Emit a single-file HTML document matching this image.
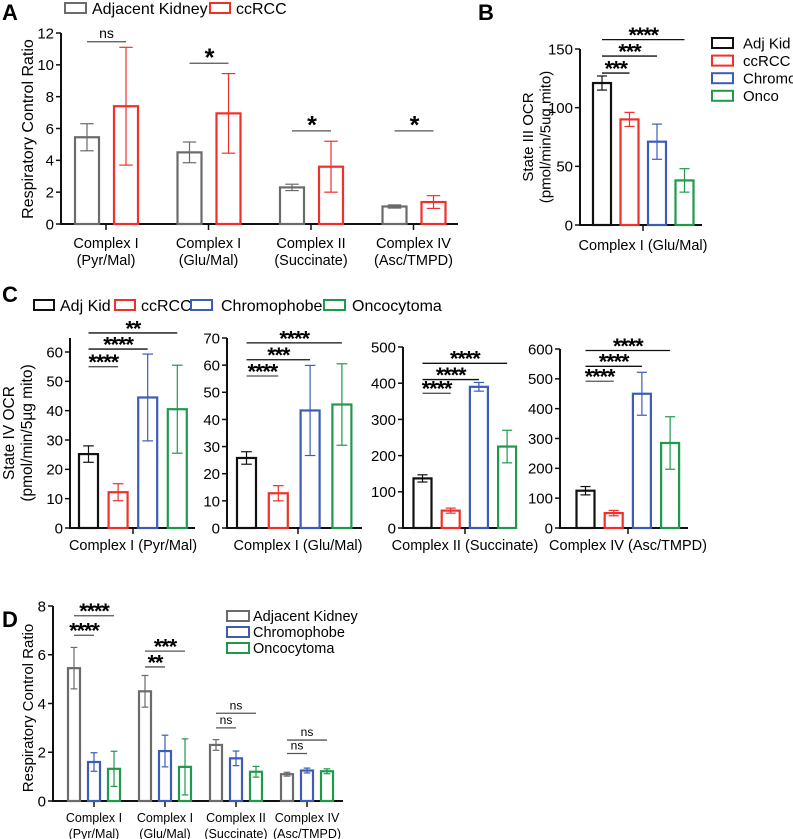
<!DOCTYPE html>
<html><head><meta charset="utf-8"><style>
body{margin:0;background:#fff}
svg{display:block;font-family:"Liberation Sans",Arial,sans-serif}
</style></head><body>
<svg id="fig" width="793" height="839" viewBox="0 0 793 839" xmlns="http://www.w3.org/2000/svg">
<g font-weight="bold" font-size="22">
<text x="2" y="20">A</text>
<text x="478" y="20">B</text>
<text x="2" y="302">C</text>
<text x="2" y="627">D</text>
</g>
</svg>
<script>
const GREY='#6b6b6b',RED='#f0302a',BLUE='#3c5cb8',GREEN='#1f9a4c',BLACK='#111';
// Panel A
const aCats=[["Complex I","(Pyr/Mal)"],["Complex I","(Glu/Mal)"],["Complex II","(Succinate)"],["Complex IV","(Asc/TMPD)"]];
const aAdj=[5.45,4.5,2.3,1.1];
const aAdjErr=[0.85,0.65,0.2,0.1];
const aCc=[7.4,6.95,3.6,1.38];
const aCcErr=[3.7,2.5,1.6,0.4];
const aTicks=[0,2,4,6,8,10,12];
const aSig=[["ns",11.45],["*",10.1],["*",5.85],["*",5.85]];
// Panel B
const bVals=[121,90,71,38];
const bErr=[6,6,15,10];
const bTicks=[0,50,100,150];
const bSig=[["***",129.5,1],["***",144,2],["****",158,3]];
// Panel C
const cTitles=["Complex I (Pyr/Mal)","Complex I (Glu/Mal)","Complex II (Succinate)","Complex IV (Asc/TMPD)"];
const c1Vals=[25.2,12.2,44.5,40.5];const c1Err=[2.8,2.9,14.8,15];
const c2Vals=[25.8,12.8,43.3,45.5];const c2Err=[2.3,2.8,16.6,15];
const c3Vals=[137,48,390,225];const c3Err=[10,7,12,45];
const c4Vals=[125,50,450,285];const c4Err=[14,9,72,88];
const c1Ticks=[0,10,20,30,40,50,60];const c2Ticks=[0,10,20,30,40,50,60,70];
const c3Ticks=[0,100,200,300,400,500];const c4Ticks=[0,100,200,300,400,500,600];
const c1Sig=[["****",55,1],["****",61,2],["**",66.5,3]];
const c2Sig=[["****",56,1],["***",62,2],["****",68.2,3]];
const c3Sig=[["****",372,1],["****",410,2],["****",455,3]];
const c4Sig=[["****",492,1],["****",542,2],["****",595,3]];
// Panel D
const dAdj=[5.45,4.5,2.3,1.1];const dAdjErr=[0.85,0.65,0.22,0.08];
const dChr=[1.6,2.05,1.75,1.25];const dChrErr=[0.38,0.65,0.3,0.1];
const dOnc=[1.32,1.4,1.2,1.22];const dOncErr=[0.72,1.15,0.22,0.1];
const dTicks=[0,2,4,6,8];
const dSig=[[["****",6.8,1],["****",7.6,2]],[["**",5.5,1],["***",6.15,2]],[["ns",3.0,1],["ns",3.6,2]],[["ns",1.95,1],["ns",2.5,2]]];

const svg=document.getElementById('fig');
const NS='http://www.w3.org/2000/svg';
function el(tag,attrs,parent,txt){const e=document.createElementNS(NS,tag);for(const k in attrs)e.setAttribute(k,attrs[k]);if(txt!==undefined)e.textContent=txt;(parent||svg).appendChild(e);return e;}
function scale(d0,d1,p0,p1){return v=>p0+(v-d0)/(d1-d0)*(p1-p0);}
function axis(g,x,xEnd,y,ticks,fs,top){
  const l=el('line',{x1:x,y1:top,x2:x,y2:y(ticks[0]),stroke:BLACK,'stroke-width':2},g);
  
  const b=el('line',{x1:x-1,y1:y(ticks[0]),x2:xEnd,y2:y(ticks[0]),stroke:BLACK,'stroke-width':2},g);
  
  ticks.forEach(t=>{
    const tl=el('line',{x1:x-5,y1:y(t),x2:x,y2:y(t),stroke:BLACK,'stroke-width':1.5},g);
    
    const tt=el('text',{x:x-7,y:y(t)+fs*0.36,'text-anchor':'end','font-size':fs},g,String(t));
    
  });
}
function bar(g,cx,w,v,e,y,color,name){
  const r=el('rect',{x:cx-w/2,y:y(v),width:w,height:y(0)-y(v),fill:'none',stroke:color,'stroke-width':2.2},g);
  
  const eg=el('g',{stroke:color,'stroke-width':1.2},g);
  
  const c=w*0.28;
  el('line',{x1:cx,y1:y(v-e),x2:cx,y2:y(v+e)},eg);
  el('line',{x1:cx-c,y1:y(v+e),x2:cx+c,y2:y(v+e)},eg);
  el('line',{x1:cx-c,y1:y(v-e),x2:cx+c,y2:y(v-e)},eg);
}
function sig(g,x1,x2,yv,label,fs,color){
  const l=el('line',{x1:x1,y1:yv,x2:x2,y2:yv,stroke:color||'#555','stroke-width':1.3},g);
  
  const isStar=label!=='ns';
  const t=el('text',{x:(x1+x2)/2,y:isStar?yv+fs*0.2:yv-4,'text-anchor':'middle','font-size':isStar?fs*1.8:fs,'font-weight':isStar?'bold':'normal','letter-spacing':isStar?-1:0},g,label);
  
}
function legendItem(g,x,y,w,h,color,label,fs,tx){
  const r=el('rect',{x:x,y:y,width:w,height:h,fill:'none',stroke:color,'stroke-width':2},g);
  
  const t=el('text',{x:tx,y:y+h/2+fs*0.36,'font-size':fs},g,label);
  
}
function ytitle(g,cx,cy,lines,fs){
  const t=el('text',{transform:`translate(${cx},${cy}) rotate(-90)`,'text-anchor':'middle','font-size':fs},g);
  
  lines.forEach((s,i)=>{el('tspan',{x:0,dy:i?fs*1.15:0},t,s);});
}

// ---- Panel A
(function(){
  const g=el('g',{});
  const y=scale(0,12,224,33);
  axis(g,61,458,y,aTicks,15,33);
  legendItem(g,65,3,21,10,GREY,'Adjacent Kidney',16,92);
  legendItem(g,210,3,20,10,RED,'ccRCC',16,236);
  ytitle(g,33,129,['Respiratory Control Ratio'],16);
  aCats.forEach((c,i)=>{
    const cx=106+i*102.5;
    el('line',{x1:cx,y1:224,x2:cx,y2:230,stroke:BLACK,'stroke-width':1.5},g);
    bar(g,cx-19,24,aAdj[i],aAdjErr[i],y,GREY,'bar-adjacent-'+i);
    bar(g,cx+20,24,aCc[i],aCcErr[i],y,RED,'bar-ccrcc-'+i);
    sig(g,cx-19,cx+20,y(aSig[i][1]),aSig[i][0],14);
    c.forEach((s,j)=>{const t=el('text',{x:cx,y:248+j*17,'text-anchor':'middle','font-size':14.5},g,s);
      });
  });
})();

// ---- Panel B
(function(){
  const g=el('g',{});
  const y=scale(0,150,225,49);
  axis(g,580,702,y,bTicks,15,49);
  const cols=[BLACK,RED,BLUE,GREEN];
  bVals.forEach((v,i)=>bar(g,602+i*27.5,18,v,bErr[i],y,cols[i],'bar-b-'+i));
  el('line',{x1:643,y1:225,x2:643,y2:231,stroke:BLACK,'stroke-width':1.5},g);
  bSig.forEach(s=>sig(g,602,602+s[2]*27.5,y(s[1]),s[0],12,BLACK));
  const t=el('text',{x:643,y:250,'text-anchor':'middle','font-size':14.5},g,'Complex I (Glu/Mal)');
  
  ytitle(g,533,137,['State III OCR','(pmol/min/5ug mito)'],15);
  ['Adj Kid','ccRCC','Chromo','Onco'].forEach((s,i)=>legendItem(g,712,38+i*17.6,21,10,cols[i],s,15,743));
})();

// ---- Panel C
(function(){
  const g=el('g',{});
  const cols=[BLACK,RED,BLUE,GREEN];
  legendItem(g,34,300,20,10,BLACK,'Adj Kid',16,60);
  legendItem(g,115,300,20,10,RED,'ccRCC',16,141);
  legendItem(g,191,300,21,10,BLUE,'Chromophobe',16,221);
  legendItem(g,324,300,21,10,GREEN,'Oncocytoma',16,352);
  ytitle(g,14,433,['State IV OCR','(pmol/min/5µg mito)'],15.5);
  const subs=[
    {ax:70,end:195,max:60,top:338,ticks:c1Ticks,vals:c1Vals,err:c1Err,sig:c1Sig,b0:88.5,sp:29.6,bw:19,tick:133},
    {ax:227,end:362,max:70,top:338,ticks:c2Ticks,vals:c2Vals,err:c2Err,sig:c2Sig,b0:246.5,sp:31.8,bw:19,tick:298},
    {ax:403,end:517,max:500,top:347,ticks:c3Ticks,vals:c3Vals,err:c3Err,sig:c3Sig,b0:422.5,sp:28.2,bw:18,tick:465},
    {ax:560,end:688,max:600,top:349,ticks:c4Ticks,vals:c4Vals,err:c4Err,sig:c4Sig,b0:585.5,sp:28.2,bw:18,tick:628}];
  const ytops=[352,338,347,349];
  subs.forEach((s,k)=>{
    const sg=el('g',{},g);
    const y=scale(0,s.max,528,ytops[k]);
    axis(sg,s.ax,s.end,y,s.ticks,15,s.top);
    s.vals.forEach((v,i)=>bar(sg,s.b0+i*s.sp,s.bw,v,s.err[i],y,cols[i],'bar-c'+(k+1)+'-'+i));
    el('line',{x1:s.tick,y1:528,x2:s.tick,y2:534,stroke:BLACK,'stroke-width':1.5},sg);
    s.sig.forEach(q=>sig(sg,s.b0,s.b0+q[2]*s.sp,y(q[1]),q[0],12,q[2]==1?'#555':BLACK));
    const t=el('text',{x:s.tick,y:550,'text-anchor':'middle','font-size':14.5},sg,cTitles[k]);
    
  });
})();

// ---- Panel D
(function(){
  const g=el('g',{});
  const y=scale(0,8,801,606);
  axis(g,53,343,y,dTicks,15,606);
  ytitle(g,33,708,['Respiratory Control Ratio'],15);
  aCats.forEach((c,i)=>{
    const cx=94+i*71;
    el('line',{x1:cx,y1:801,x2:cx,y2:807,stroke:BLACK,'stroke-width':1.5},g);
    bar(g,cx-20,12,dAdj[i],dAdjErr[i],y,GREY,'bar-d-adjacent-'+i);
    bar(g,cx,12,dChr[i],dChrErr[i],y,BLUE,'bar-d-chromophobe-'+i);
    bar(g,cx+20,12,dOnc[i],dOncErr[i],y,GREEN,'bar-d-oncocytoma-'+i);
    dSig[i].forEach(q=>sig(g,cx-20,cx-20+q[2]*20,y(q[1]),q[0],12,'#555'));
    c.forEach((s,j)=>{const t=el('text',{x:cx,y:822+j*16,'text-anchor':'middle','font-size':12.5},g,s);
      });
  });
  legendItem(g,227,611,22,10,GREY,'Adjacent Kidney',14.5,253);
  legendItem(g,227,627,22,10,BLUE,'Chromophobe',14.5,253);
  legendItem(g,227,643,22,10,GREEN,'Oncocytoma',14.5,253);
})();
</script>
</body></html>
